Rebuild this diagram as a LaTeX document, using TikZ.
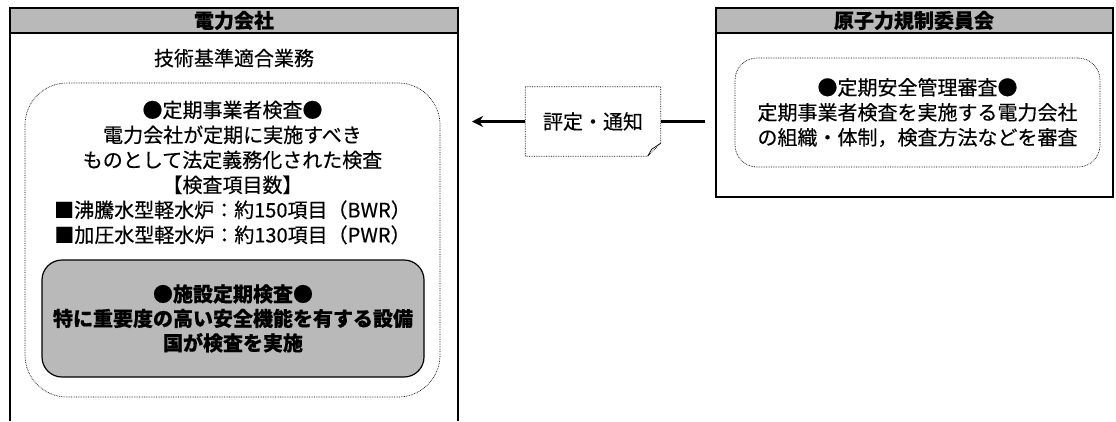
\documentclass[tikz,border=0pt]{standalone}
\usepackage{fontspec}
\setmainfont{Noto Sans CJK JP}[FakeBold=0.4]
\usepackage{tikz}
\usetikzlibrary{arrows.meta,backgrounds}

\tikzset{
  frame/.style={line width=1.6pt},
  hdrfill/.style={fill=gray!55},
  dashbox/.style={draw, densely dotted, line width=0.7pt, rounded corners=#1, inner sep=0pt},
  txt/.style={align=center, font=\fontsize{20}{25}\selectfont},
  boldtxt/.style={align=center, font=\fontsize{20}{24.5}\selectfont\bfseries}
}

\begin{document}
\begin{tikzpicture}[x=1pt, y=-1pt]
  \useasboundingbox (0,0) rectangle (1116,421);
  % electric company side
  \fill[hdrfill] (10,8) rectangle (458,33);
  \draw[frame] (10,421) -- (10,8) -- (458,8) -- (458,421);
  \draw[frame] (10,33) -- (458,33);
  \node[boldtxt] (denryoku) at (234,20.5) {電力会社};
  \node[txt] (gijutsu) at (234,58) {技術基準適合業務};
  \node[dashbox=42, minimum width=415pt, minimum height=314pt] (jigyosha) at (232.5,240) {};
  \node[txt] (jigyoshaTxt) at (232.5,172.5)
    {●定期事業者検査●\\電力会社が定期に実施すべき\\ものとして法定義務化された検査\\【検査項目数】\\
     ■沸騰水型軽水炉：約150項目（BWR）\\■加圧水型軽水炉：約130項目（PWR）};
  \node[draw, line width=1.2pt, hdrfill, rounded corners=20, minimum width=382pt, minimum height=117pt,
        boldtxt] (shisetsu) at (233,318.5)
    {●施設定期検査●\\特に重要度の高い安全機能を有する設備\\国が検査を実施};
  % regulator side
  \fill[hdrfill] (716,8) rectangle (1113,33);
  \draw[frame] (716,8) rectangle (1113,197);
  \draw[frame] (716,33) -- (1113,33);
  \node[boldtxt] (kisei) at (914,20.5) {原子力規制委員会};
  \node[dashbox=22, minimum width=365pt, minimum height=109pt, txt] (anzen) at (917.5,112.5)
    {●定期安全管理審査●\\定期事業者検査を実施する電力会社\\の組織・体制，検査方法などを審査};
  % notice
  \node[txt, minimum width=135pt, minimum height=69pt] (hyotei) at (593,121.5) {評定・通知};
  \draw[densely dotted, line width=0.7pt] (hyotei.north west) -- (hyotei.north east)
    -- ([yshift=13pt]hyotei.south east) -- ([xshift=-13pt]hyotei.south east)
    -- (hyotei.south west) -- cycle;
  \draw[line width=0.7pt] ([xshift=-13pt]hyotei.south east) -- ([xshift=-9pt,yshift=7pt]hyotei.south east)
    -- ([yshift=13pt]hyotei.south east);
  \coordinate (kiseiL) at (705,121.5);
  \coordinate (denryokuR) at (472,121.5);
  \draw[line width=2.4pt] (kiseiL) -- (hyotei.east);
  \draw[line width=2.4pt, -{Stealth[length=11pt,width=11pt]}] (hyotei.west) -- (denryokuR);
\end{tikzpicture}
\end{document}
